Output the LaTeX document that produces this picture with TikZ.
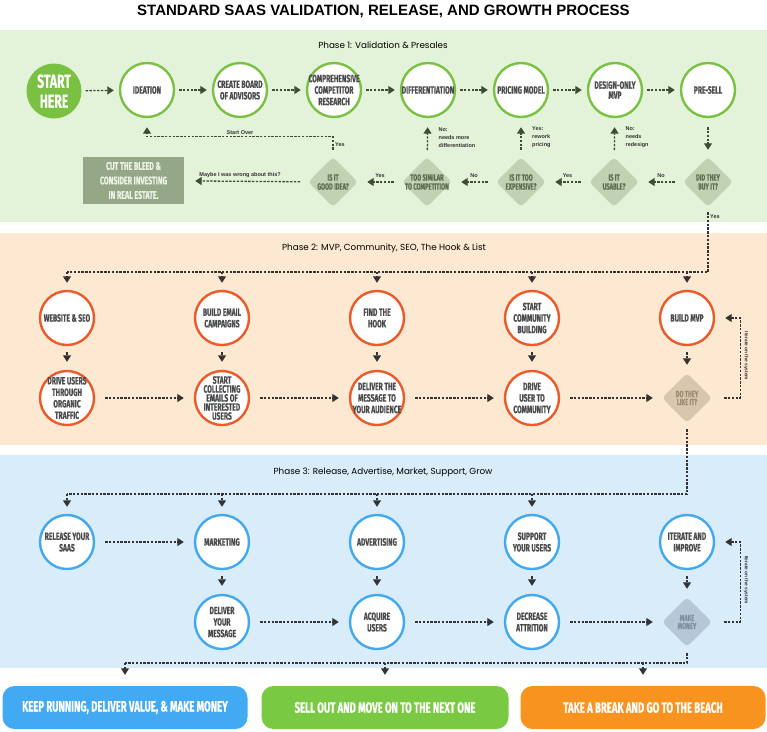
\documentclass[tikz,border=0pt]{standalone}
\usepackage{fontspec}
\setmainfont{Liberation Sans}
\newfontfamily\cond[FakeStretch=0.64, BoldFeatures={FakeBold=0.6}]{Fira Sans}
\newfontfamily\phasefont{Poppins}
\usetikzlibrary{arrows.meta,shapes.geometric,calc}
\definecolor{bgone}{HTML}{E3F3D9}
\definecolor{bgtwo}{HTML}{FDE8D2}
\definecolor{bgthree}{HTML}{D9ECFA}
\definecolor{cgreen}{HTML}{7AC143}
\definecolor{corange}{HTML}{EC5A29}
\definecolor{cblue}{HTML}{42A8F0}
\definecolor{ctxt}{HTML}{4B4C4E}
\definecolor{colive}{HTML}{3E4C31}
\definecolor{cdark}{HTML}{333333}
\definecolor{dgreen}{HTML}{C1D2B3}
\definecolor{dgreentext}{HTML}{5E6F53}
\definecolor{cutbox}{HTML}{94A786}
\definecolor{cuttext}{HTML}{EDF2E6}
\definecolor{dtan}{HTML}{D8C6AE}
\definecolor{dtantext}{HTML}{A08A70}
\definecolor{dblue}{HTML}{B6C8D7}
\definecolor{dbluetext}{HTML}{7B90A3}
\definecolor{boxblue}{HTML}{42A9F3}
\definecolor{boxgreen}{HTML}{7AC943}
\definecolor{boxorange}{HTML}{F7931E}
\newcommand\mycirc[4]{\node[#1] (#2) at (#3) {}; \node[ctext] at (#2) {#4};}
\newcommand\mydia[5]{\node[dia, fill=#1] (#2) at (#3) {}; \node[dtext, text=#5] at (#2) {#4};}
\tikzset{
  base/.style={circle, line width=2.4pt, fill=white, minimum size=54pt, inner sep=0pt},
  gc/.style={base, draw=cgreen},
  oc/.style={base, draw=corange},
  bc/.style={base, draw=cblue},
  ctext/.style={font=\cond\bfseries\fontsize{10.5}{11.5}\selectfont, text=ctxt, align=center, inner sep=0pt},
  dia/.style={diamond, aspect=1, minimum width=50pt, minimum height=50pt, inner sep=0pt, rounded corners=4pt},
  dtext/.style={font=\cond\bfseries\fontsize{9}{9}\selectfont, align=center, inner sep=0pt},
  titlestyle/.style={font=\bfseries\fontsize{15}{15}\selectfont, text=black, inner sep=0pt},
  phase/.style={font=\phasefont\fontsize{8.8}{10}\selectfont, text=black, inner sep=0pt},
  lab/.style={font=\bfseries\fontsize{5.5}{8}\selectfont, text=cdark, inner sep=1.5pt},
  vlab/.style={font=\bfseries\fontsize{4.8}{5}\selectfont, text=cdark, inner sep=0pt, rotate=-90},
  arrowbase/.style={line width=1.3pt, dash pattern=on 2.4pt off 1.4pt, -{Triangle[width=8pt,length=6.5pt]}},
  lineonly/.style={line width=1.3pt, dash pattern=on 2.4pt off 1.4pt, draw=cdark},
  a1/.style={arrowbase, draw=colive, shorten <=4pt, shorten >=5pt},
  a1d/.style={arrowbase, draw=colive, shorten <=8pt, shorten >=9pt},
  a1v/.style={arrowbase, draw=colive, shorten <=7pt, shorten >=9pt},
  a2/.style={arrowbase, draw=cdark},
  a2h/.style={a2, shorten <=10pt, shorten >=10pt},
  a2v/.style={a2, shorten <=6pt, shorten >=8pt},
  a2drop/.style={a2, shorten >=7pt},
  a2box/.style={a2, shorten >=11pt},
  endbox/.style={rounded corners=12pt, minimum height=43pt, inner sep=0pt, text=white, font=\cond\bfseries\fontsize{15}{15}\selectfont},
  cut/.style={fill=cutbox, text=cuttext, minimum width=101pt, minimum height=47pt, inner sep=0pt, align=center, font=\cond\bfseries\fontsize{11}{14.5}\selectfont},
}
\begin{document}
\begin{tikzpicture}[x=1pt,y=-1pt]
\useasboundingbox (0,0) rectangle (767,731);
\fill[white] (0,0) rectangle (767,731);
\fill[bgone] (0,30) rectangle (767,222);
\fill[bgtwo] (0,233) rectangle (767,445);
\fill[bgthree] (0,455) rectangle (767,668);

\node[titlestyle] (title) at (383.5,11) {STANDARD SAAS VALIDATION, RELEASE, AND GROWTH PROCESS};
\node[phase] (ph1) at (383,45) {Phase 1: Validation \& Presales};
\node[phase] (ph2) at (384,248) {Phase 2: MVP, Community, SEO, The Hook \& List};
\node[phase] (ph3) at (383,472) {Phase 3: Release, Advertise, Market, Support, Grow};

% ---------- Phase 1
\node[circle, fill=cgreen, minimum size=55pt, inner sep=0pt] (start) at (54,91) {};
\node[font=\cond\bfseries\fontsize{19}{20}\selectfont, text=white, align=center, inner sep=0pt] at (start) {START\\HERE};
\mycirc{gc}{ideation}{147,90}{IDEATION}
\mycirc{gc}{board}{240,90}{CREATE BOARD\\OF ADVISORS}
\mycirc{gc}{research}{334,90}{COMPREHENSIVE\\COMPETITOR\\RESEARCH}
\mycirc{gc}{diff}{428,90}{DIFFERENTIATION}
\mycirc{gc}{pricing}{521,90}{PRICING MODEL}
\mycirc{gc}{design}{615,90}{DESIGN-ONLY\\[-1.5pt]MVP}
\mycirc{gc}{presell}{708,90}{PRE-SELL}

\mydia{dgreen}{buy}{708,182}{DID THEY\\BUY IT?}{dgreentext}
\mydia{dgreen}{usable}{614,182}{IS IT\\USABLE?}{dgreentext}
\mydia{dgreen}{expensive}{521,182}{IS IT TOO\\EXPENSIVE?}{dgreentext}
\mydia{dgreen}{similar}{427,182}{TOO SIMILAR\\TO COMPETITION}{dgreentext}
\mydia{dgreen}{good}{333,182}{IS IT\\GOOD IDEA?}{dgreentext}
\node[cut] (cutb) at (133.5,180.5) {CUT THE BLEED \&\\CONSIDER INVESTING\\IN REAL ESTATE.};

\draw[a1] (start) -- (ideation);
\draw[a1] (ideation) -- (board);
\draw[a1] (board) -- (research);
\draw[a1] (research) -- (diff);
\draw[a1] (diff) -- (pricing);
\draw[a1] (pricing) -- (design);
\draw[a1] (design) -- (presell);

\draw[a1v, shorten <=9pt, shorten >=7pt] (presell) -- (buy);
\draw[a1d] (buy) -- node[lab, above=2pt] {No} (usable);
\draw[a1d] (usable) -- node[lab, above=2pt] {Yes} (expensive);
\draw[a1d] (expensive) -- node[lab, above=2pt] {No} (similar);
\draw[a1d] (similar) -- node[lab, above=2pt] {Yes} (good);
\draw[a1d, shorten >=11pt] (good) -- node[lab, above=2pt, xshift=-6pt] {Maybe I was wrong about this?} (cutb);

\draw[a1v] (similar) -- node[lab, right, xshift=9pt, align=left] {No:\\needs more\\differentiation} (diff);
\draw[a1v] (expensive) -- node[lab, right, xshift=9pt, align=left] {Yes:\\rework\\pricing} (pricing);
\draw[a1v] (usable) -- node[lab, right, xshift=9pt, align=left] {No:\\needs\\redesign} (design);

\coordinate (so) at ($(good.north)+(0,-20)$);
\draw[a1v] (good.north) -- node[lab, right, pos=0.6] {Yes} (so) -| node[lab, above, pos=0.25] {Start Over} (ideation);

% ---------- Phase 2
\mycirc{oc}{web}{67,318}{WEBSITE \& SEO}
\mycirc{oc}{email}{222,318}{BUILD EMAIL\\CAMPAIGNS}
\mycirc{oc}{hook}{377,318}{FIND THE\\HOOK}
\mycirc{oc}{comm}{532,318}{START\\COMMUNITY\\BUILDING}
\mycirc{oc}{mvp}{687,318}{BUILD MVP}
\mycirc{oc}{drive}{67,398}{DRIVE USERS\\THROUGH\\ORGANIC\\TRAFFIC}
\node[oc] (collect) at (222,398) {};
\node[ctext, font=\cond\bfseries\fontsize{10.5}{9}\selectfont] at (collect) {START\\COLLECTING\\EMAILS OF\\INTERESTED\\USERS};
\mycirc{oc}{deliver}{377,398}{DELIVER THE\\MESSAGE TO\\YOUR AUDIENCE}
\mycirc{oc}{driveuser}{532,398}{DRIVE\\USER TO\\COMMUNITY}
\mydia{dtan}{like}{687,398}{DO THEY\\[-1pt]LIKE IT?}{dtantext}

\coordinate (bustwor) at (708,272);
\coordinate (bustwol) at (67,272);
\draw[lineonly, shorten <=5pt] (buy.south) -- node[lab, right, pos=0.14] {Yes} (bustwor) -- (bustwol);
\foreach \n in {web,email,hook,comm,mvp} \draw[a2drop] (\n |- bustwor) -- (\n);

\draw[a2v] (web) -- (drive);
\draw[a2v] (email) -- (collect);
\draw[a2v] (hook) -- (deliver);
\draw[a2v] (comm) -- (driveuser);
\draw[a2v] (mvp) -- (like);
\draw[a2h] (drive) -- (collect);
\draw[a2h] (collect) -- (deliver);
\draw[a2h] (deliver) -- (driveuser);
\draw[a2h, shorten >=9pt] (driveuser) -- (like);
\coordinate (fbtwo) at ($(like.east)+(28,0)$);
\draw[a2, shorten <=12pt, shorten >=10pt] (like.east) -- (fbtwo) |- (mvp);
\node[vlab] (itwo) at (746,356) {Iterate on the system};

% ---------- Phase 3
\mycirc{bc}{release}{67,542}{RELEASE YOUR\\SAAS}
\mycirc{bc}{marketing}{222,542}{MARKETING}
\mycirc{bc}{advert}{377,542}{ADVERTISING}
\mycirc{bc}{support}{532,542}{SUPPORT\\YOUR USERS}
\mycirc{bc}{iterate}{687,542}{ITERATE AND\\IMPROVE}
\mycirc{bc}{delmsg}{222,622}{DELIVER\\YOUR\\MESSAGE}
\mycirc{bc}{acquire}{377,622}{ACQUIRE\\USERS}
\mycirc{bc}{attrition}{532,622}{DECREASE\\ATTRITION}
\mydia{dblue}{money}{687,622}{MAKE\\[-1pt]MONEY}{dbluetext}

\coordinate (busthreer) at (687,494);
\coordinate (busthreel) at (67,494);
\draw[lineonly, shorten <=6pt] (like.south) -- (busthreer) -- (busthreel);
\foreach \n in {release,marketing,advert,support} \draw[a2drop] (\n |- busthreer) -- (\n);

\draw[a2h] (release) -- (marketing);
\draw[a2v] (marketing) -- (delmsg);
\draw[a2v] (advert) -- (acquire);
\draw[a2v] (support) -- (attrition);
\draw[a2v] (iterate) -- (money);
\draw[a2h] (delmsg) -- (acquire);
\draw[a2h] (acquire) -- (attrition);
\draw[a2h, shorten >=9pt] (attrition) -- (money);
\coordinate (fbthree) at ($(money.east)+(28,0)$);
\draw[a2, shorten <=12pt, shorten >=10pt] (money.east) -- (fbthree) |- (iterate);
\node[vlab] (ithree) at (746,580) {Iterate on the system};

% ---------- Outcomes
\node[endbox, fill=boxblue, minimum width=245pt] (keep) at (125,707.5) {KEEP RUNNING, DELIVER VALUE, \& MAKE MONEY};
\node[endbox, fill=boxgreen, minimum width=247pt] (sell) at (385,707.5) {SELL OUT AND MOVE ON TO THE NEXT ONE};
\node[endbox, fill=boxorange, minimum width=245pt] (beach) at (643,707.5) {TAKE A BREAK AND GO TO THE BEACH};

\coordinate (busfourr) at (687,663);
\coordinate (busfourl) at (125,663);
\draw[lineonly, shorten <=6pt] (money.south) -- (busfourr) -- (busfourl);
\foreach \n in {keep,sell,beach} \draw[a2box] (\n |- busfourr) -- (\n);
\end{tikzpicture}
\end{document}
